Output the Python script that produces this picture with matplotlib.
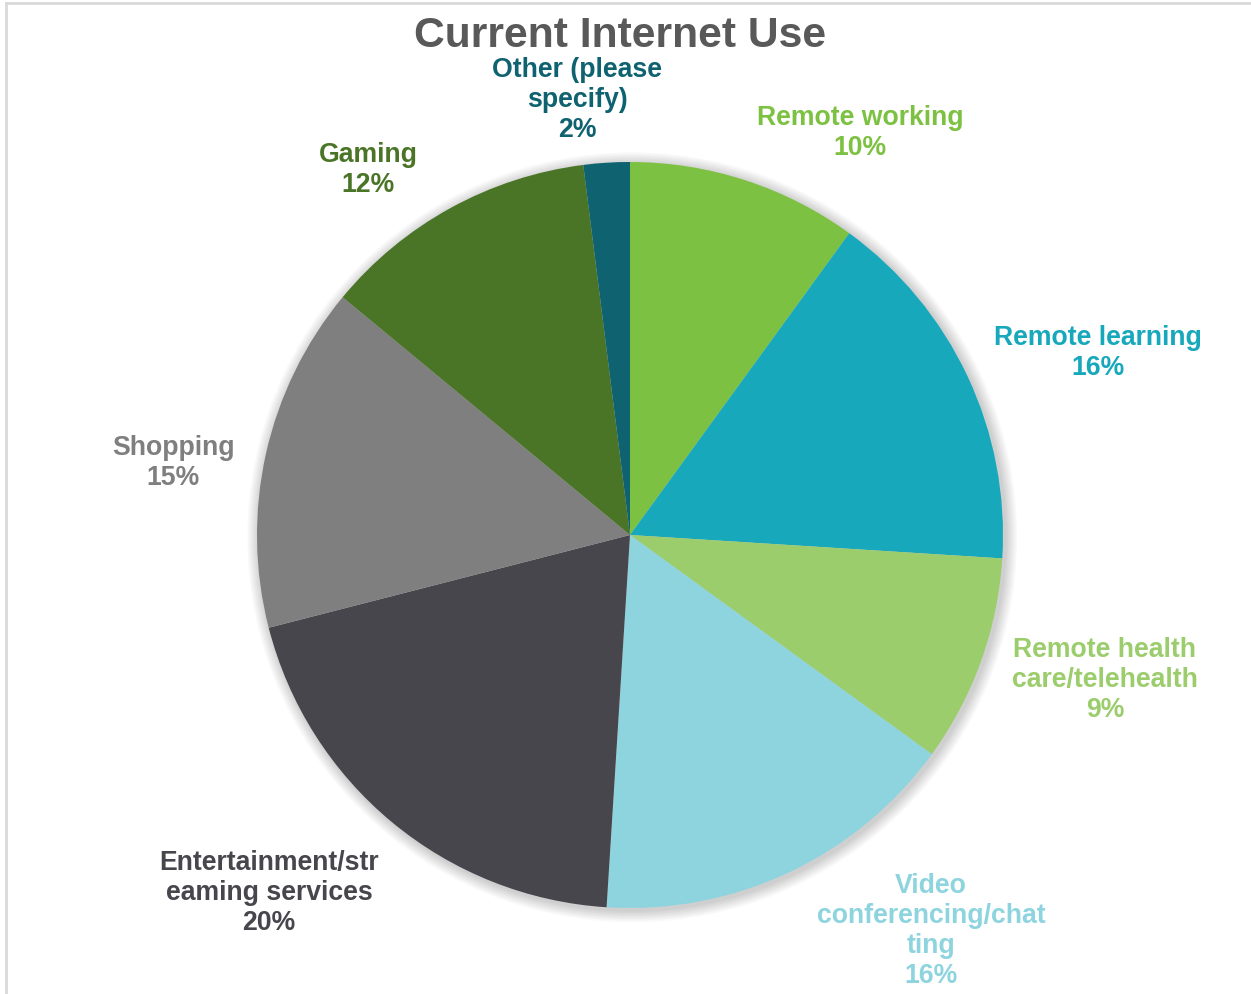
import matplotlib.pyplot as plt
from matplotlib.patches import Circle
from matplotlib.lines import Line2D

labels = ['Remote working', 'Remote learning', 'Remote health\ncare/telehealth',
          'Video\nconferencing/chat\nting', 'Entertainment/str\neaming services',
          'Shopping', 'Gaming', 'Other (please\nspecify)']
shares = [10, 16, 9, 16, 20, 15, 12, 2]
colors = ['#7DC142', '#17A8BC', '#9BCD6D', '#8DD4DF',
          '#46464C', '#7F7F7F', '#4A7527', '#0F6270']
text_colors = ['#7DC142', '#17A8BC', '#9BCD6D', '#8DD4DF',
               '#46464C', '#7F7F7F', '#4A7527', '#0F6270']
# label anchor points, in units of the pie radius
label_pos = [(0.617, 1.078), (1.255, 0.488), (1.273, -0.389), (0.807, -1.062),
             (-0.968, -0.960), (-1.225, 0.193), (-0.702, 0.979), (-0.142, 1.166)]

plt.rcParams['font.family'] = ['Liberation Sans', 'DejaVu Sans']

W, H = 1251, 994
cx, cy, R = 630, 535, 373
fig = plt.figure(figsize=(W / 100, H / 100), dpi=100)
ax = fig.add_axes([0, 0, 1, 1])

# soft drop shadow under the pie
for i in range(8):
    ax.add_patch(Circle((0.006, -0.006), 1.0 + 0.004 * (8 - i), color='black',
                        alpha=0.025, lw=0, zorder=0))

ax.pie(shares, colors=colors, startangle=90, counterclock=False, radius=1.0,
       center=(0, 0), frame=True, wedgeprops=dict(linewidth=0))
ax.set_xlim(-cx / R, (W - cx) / R)
ax.set_ylim(-(H - cy) / R, cy / R)
ax.set_aspect('auto')
ax.axis('off')

for lab, val, col, (x, y) in zip(labels, shares, text_colors, label_pos):
    ax.text(x, y, f'{lab}\n{val}%', color=col, fontsize=19.2, fontweight='bold',
            ha='center', va='center', linespacing=1.2)

fig.text(620 / W, 1 - 36 / H, 'Current Internet Use', color='#595959',
         fontsize=30.7, fontweight='bold', ha='center', va='center')

# chart border (top and left edges)
fig.add_artist(Line2D([5.5 / W, 1], [1 - 3 / H, 1 - 3 / H], color='#D9D9D9', lw=2))
fig.add_artist(Line2D([5.5 / W, 5.5 / W], [0, 1 - 3 / H], color='#D9D9D9', lw=2))

fig.savefig('out.png', dpi=100)
